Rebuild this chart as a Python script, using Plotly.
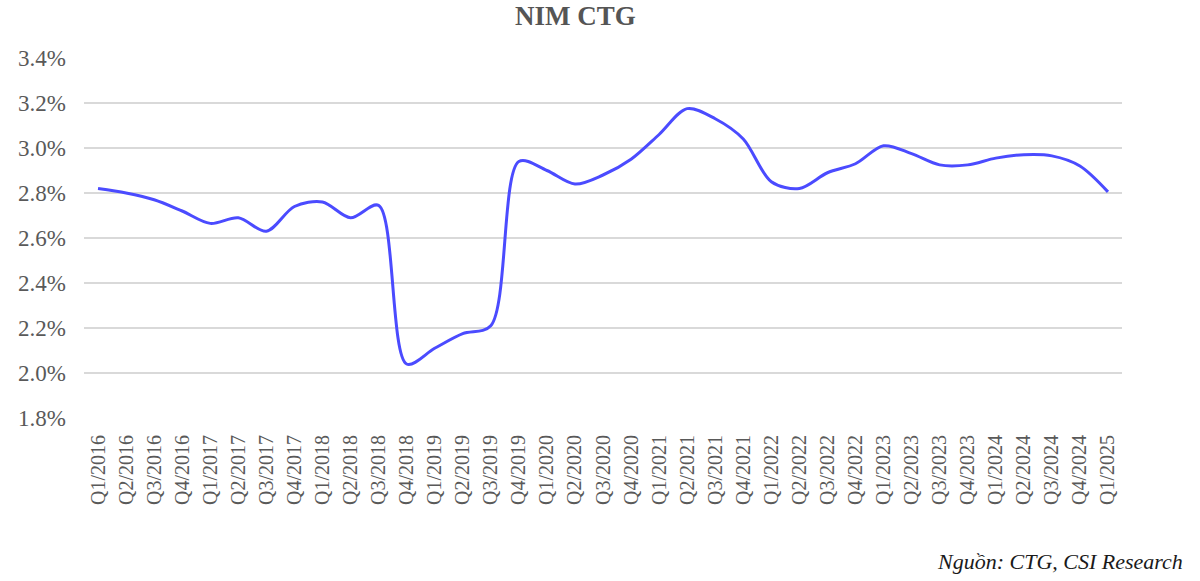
import plotly.graph_objects as go

quarters = [
    "Q1/2016", "Q2/2016", "Q3/2016", "Q4/2016",
    "Q1/2017", "Q2/2017", "Q3/2017", "Q4/2017",
    "Q1/2018", "Q2/2018", "Q3/2018", "Q4/2018",
    "Q1/2019", "Q2/2019", "Q3/2019", "Q4/2019",
    "Q1/2020", "Q2/2020", "Q3/2020", "Q4/2020",
    "Q1/2021", "Q2/2021", "Q3/2021", "Q4/2021",
    "Q1/2022", "Q2/2022", "Q3/2022", "Q4/2022",
    "Q1/2023", "Q2/2023", "Q3/2023", "Q4/2023",
    "Q1/2024", "Q2/2024", "Q3/2024", "Q4/2024",
    "Q1/2025",
]
nim = [
    2.82, 2.80, 2.77, 2.72,
    2.665, 2.69, 2.63, 2.74,
    2.76, 2.69, 2.745, 2.04,
    2.11, 2.175, 2.21, 2.94,
    2.90, 2.84, 2.88, 2.95,
    3.06, 3.175, 3.13, 3.04,
    2.85, 2.82, 2.89, 2.93,
    3.01, 2.975, 2.925, 2.925,
    2.955, 2.97, 2.965, 2.92,
    2.805,
]
nim_frac = [v / 100 for v in nim]

y_ticks = [0.018, 0.020, 0.022, 0.024, 0.026, 0.028, 0.030, 0.032, 0.034]

fig = go.Figure()
fig.add_trace(go.Scatter(
    x=quarters, y=nim_frac, mode="lines",
    line=dict(color="#4B4BFF", width=3, shape="spline", smoothing=0.9),
    showlegend=False, hoverinfo="x+y",
))

serif = "Liberation Serif, Times New Roman, serif"
W, H = 1200, 581
L, R, T, B = 84, 78, 58, 163
pw, ph = W - L - R, H - T - B

fig.update_layout(
    width=W, height=H,
    margin=dict(l=L, r=R, t=T, b=B),
    paper_bgcolor="white", plot_bgcolor="white",
    xaxis=dict(
        type="category", range=[-0.5, len(quarters) - 0.5],
        tickangle=-90, showgrid=False, zeroline=False, showline=False,
        ticks="", ticklabelstandoff=12,
        tickfont=dict(family=serif, size=20, color="#595959"),
    ),
    yaxis=dict(
        range=[0.018, 0.034], tickvals=y_ticks, tickformat=".1%",
        showgrid=True, gridcolor="#d9d9d9", gridwidth=1.5,
        zeroline=False, showline=False, ticks="",
        ticklabelstandoff=17,
        tickfont=dict(family=serif, size=23, color="#595959"),
    ),
    annotations=[
        dict(
            text="<b>NIM CTG</b>", xref="paper", yref="paper",
            x=(575 - L) / pw, y=1 + (T - 16) / ph,
            xanchor="center", yanchor="middle", showarrow=False,
            font=dict(family=serif, size=27, color="#555555"),
        ),
        dict(
            text="<i>Nguồn: CTG, CSI Research</i>", xref="paper", yref="paper",
            x=(1185 - L) / pw, y=-(561 - (T + ph)) / ph,
            xanchor="right", yanchor="middle", showarrow=False,
            font=dict(family=serif, size=22, color="#1a1a1a"),
        ),
    ],
)

fig.write_html(
    "out.html",
    config={"displayModeBar": False},
    post_script="document.body.style.margin='0';document.body.style.padding='0';",
)
